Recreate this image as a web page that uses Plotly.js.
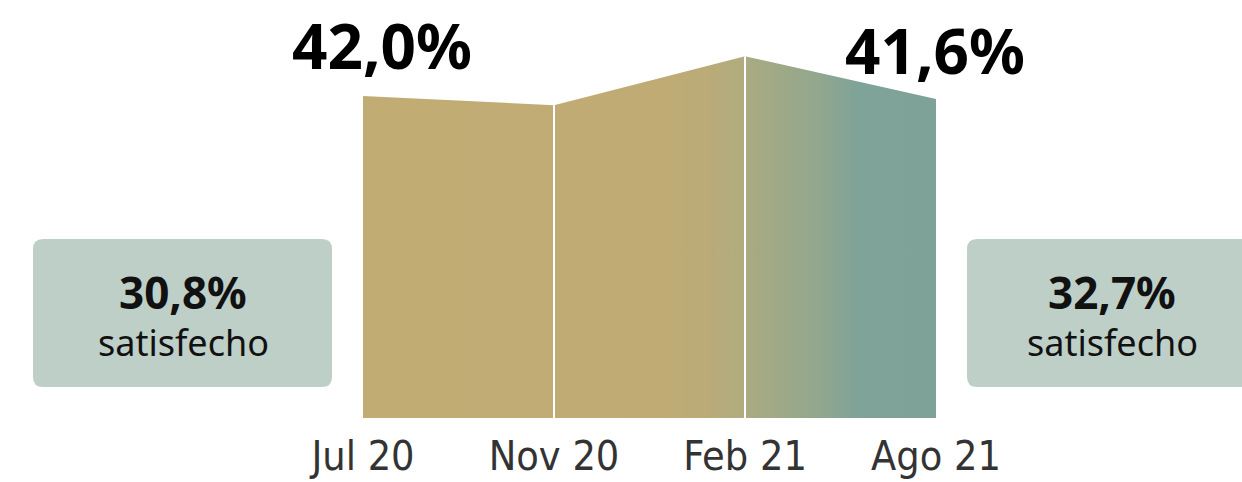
<!DOCTYPE html>
<html>
<head>
<meta charset="utf-8">
<script src="https://cdn.plot.ly/plotly-3.0.1.min.js"></script>
<style>html,body{margin:0;padding:0;background:#fff;}#chart{width:1242px;height:482px;}</style>
</head>
<body>
<div id="chart"></div>
<script>
// ---- data ----
const periods = ["Jul 20", "Nov 20", "Feb 21", "Ago 21"];
const values = [42.0, 40.8, 47.2, 41.6];
const endLabels = ["42,0%", "41,6%"];
const satisfiedValues = ["30,8%", "32,7%"];
const satisfiedText = "satisfecho";

// ---- layout helpers (pixel geometry) ----
const W = 1242, H = 482;
const M = {l: 363, r: 306, t: 0, b: 64};
const pw = W - M.l - M.r, ph = H - M.t - M.b;
const px = x => (x - M.l) / pw;
const py = y => (H - M.b - y) / ph;
function roundRect(x0, y0, x1, y1, r) {
  const X = px, Y = py;
  return `M ${X(x0 + r)},${Y(y0)} L ${X(x1 - r)},${Y(y0)} Q ${X(x1)},${Y(y0)} ${X(x1)},${Y(y0 + r)} ` +
         `L ${X(x1)},${Y(y1 - r)} Q ${X(x1)},${Y(y1)} ${X(x1 - r)},${Y(y1)} ` +
         `L ${X(x0 + r)},${Y(y1)} Q ${X(x0)},${Y(y1)} ${X(x0)},${Y(y1 - r)} ` +
         `L ${X(x0)},${Y(y0 + r)} Q ${X(x0)},${Y(y0)} ${X(x0 + r)},${Y(y0)} Z`;
}

const idx = periods.map((_, i) => i);

// white separators at inner points, built from the data
const sepX = [], sepY = [];
for (let i = 1; i < periods.length - 1; i++) {
  sepX.push(i, i, null);
  sepY.push(0, values[i], null);
}

const traces = [
  {
    type: "scatter", mode: "lines", x: idx, y: values,
    fill: "tozeroy", line: {width: 0, color: "rgba(0,0,0,0)"},
    fillgradient: {
      type: "horizontal",
      colorscale: [
        [0, "#C1AC74"], [0.52, "#C0AB74"], [0.60, "#BAAB78"], [0.665, "#B0AC7F"],
        [0.675, "#A8AA82"], [0.79, "#93A78D"], [0.86, "#7FA398"], [1, "#7EA297"]
      ]
    },
    hoverinfo: "skip", showlegend: false
  },
  {
    type: "scatter", mode: "lines", x: sepX, y: sepY,
    line: {color: "#ffffff", width: 2}, hoverinfo: "skip", showlegend: false
  }
];

const bigFont = {family: "Noto Sans", size: 62, color: "#000000", weight: 700};
const boxNumFont = {family: "Noto Sans", size: 44, color: "#111111", weight: 700};
const boxTxtFont = {family: "Noto Sans", size: 36, color: "#111111"};

const annotations = [
  {xref: "x", yref: "paper", x: 0, y: py(45), xshift: 19, text: "<b>" + endLabels[0] + "</b>",
   showarrow: false, font: bigFont, xanchor: "center", yanchor: "middle"},
  {xref: "x", yref: "paper", x: periods.length - 1, y: py(50), xshift: -1, text: "<b>" + endLabels[1] + "</b>",
   showarrow: false, font: bigFont, xanchor: "center", yanchor: "middle"},
  {xref: "paper", yref: "paper", x: px(183), y: py(292), text: "<b>" + satisfiedValues[0] + "</b>",
   showarrow: false, font: boxNumFont, xanchor: "center", yanchor: "middle"},
  {xref: "paper", yref: "paper", x: px(183), y: py(342), text: satisfiedText,
   showarrow: false, font: boxTxtFont, xanchor: "center", yanchor: "middle"},
  {xref: "paper", yref: "paper", x: px(1112), y: py(292), text: "<b>" + satisfiedValues[1] + "</b>",
   showarrow: false, font: boxNumFont, xanchor: "center", yanchor: "middle"},
  {xref: "paper", yref: "paper", x: px(1112), y: py(342), text: satisfiedText,
   showarrow: false, font: boxTxtFont, xanchor: "center", yanchor: "middle"}
];

const shapes = [
  {type: "path", xref: "paper", yref: "paper", path: roundRect(33, 239, 332, 387, 10),
   fillcolor: "#BECFC7", line: {width: 0}, layer: "below"},
  {type: "path", xref: "paper", yref: "paper", path: roundRect(967, 239, 1262, 387, 10),
   fillcolor: "#BECFC7", line: {width: 0}, layer: "below"}
];

const layout = {
  width: W, height: H,
  margin: M,
  paper_bgcolor: "#ffffff", plot_bgcolor: "#ffffff",
  showlegend: false,
  xaxis: {
    range: [0, periods.length - 1], tickvals: idx, ticktext: periods,
    showgrid: false, zeroline: false, showline: false, ticks: "",
    tickfont: {family: "DejaVu Sans Condensed", size: 41, color: "#333333"},
    ticklabelstandoff: 10, fixedrange: true
  },
  yaxis: {
    range: [0, ph / (322 / values[0])], visible: false, showgrid: false, zeroline: false, fixedrange: true
  },
  annotations: annotations,
  shapes: shapes
};

Plotly.newPlot("chart", traces, layout, {staticPlot: true, displayModeBar: false});
</script>
</body>
</html>
